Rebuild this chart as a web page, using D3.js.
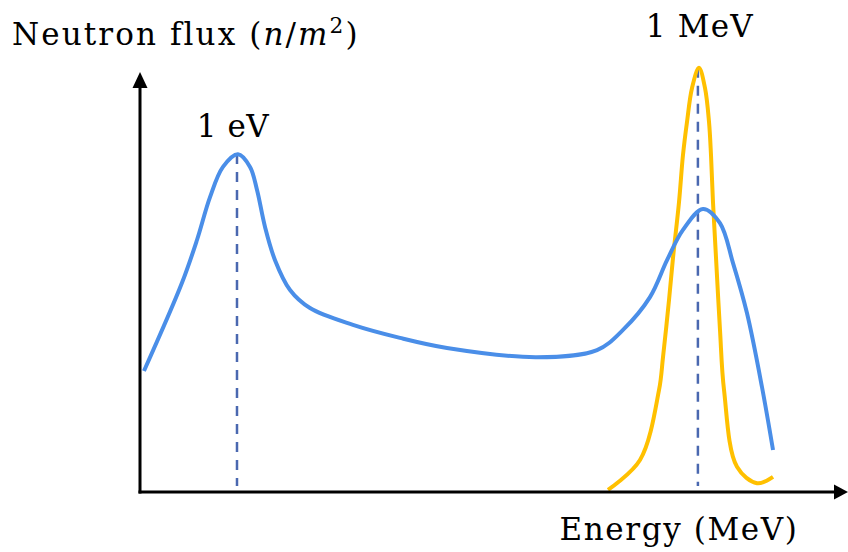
<!DOCTYPE html>
<html>
<head>
<meta charset="utf-8">
<script src="https://cdn.jsdelivr.net/npm/d3@7"></script>
<style>
  html, body { margin: 0; padding: 0; background: #fff; }
  svg { display: block; }
  text { font-family: "DejaVu Serif", "Liberation Serif", serif; fill: #000; }
</style>
</head>
<body>
<svg id="chart" width="848" height="552"></svg>
<script>
// ---- data (abstract units: energy 0..100 along the axis, flux 0..100 up the axis) ----
const blueX = [0.56, 5.93, 8.05, 9.89, 11.72, 13.84, 15.54, 16.53, 17.66, 19.07, 21.19, 24.01, 30.08, 36.72, 43.36, 56.07, 64.55, 68.22, 72.03, 74.44, 76.69, 79.52, 81.92, 83.76, 85.73, 87.85, 89.41];
const blueY = [28.8, 49.8, 60.0, 70.2, 77.4, 80.4, 77.4, 71.9, 63.1, 55.2, 48.1, 43.8, 39.8, 36.7, 34.3, 32.1, 33.8, 38.6, 46.4, 55.2, 62.4, 67.4, 64.0, 54.5, 42.6, 25.0, 10.0];
const yellowX = [66.10, 70.62, 73.31, 73.87, 74.72, 75.28, 76.13, 76.69, 77.26, 77.97, 78.95, 79.80, 80.37, 80.65, 80.93, 81.36, 81.92, 82.49, 84.32, 87.15, 89.41];
const yellowY = [0.5, 7.6, 24.3, 32.1, 45.7, 55.7, 69.0, 80.2, 88.1, 96.2, 101.0, 96.2, 88.1, 80.2, 69.0, 55.7, 38.6, 24.3, 6.0, 2.1, 3.6];
const markerX = [13.7, 78.8];          // 1 eV, 1 MeV
const markerTop = [80.5, 101.0];
const markerLabels = ["1 eV", "1 MeV"];
const xAxisTitle = "Energy (MeV)";

const svg = d3.select("#chart");
const x = d3.scaleLinear().domain([0, 100]).range([140, 848]);
const y = d3.scaleLinear().domain([0, 100]).range([492, 72]);

const blueColor = "#4a8ee8";
const yellowColor = "#ffc000";
const dashColor = "#4a68b0";

// dashed markers
markerX.forEach((mx, i) => {
  svg.append("line")
    .attr("x1", x(mx)).attr("x2", x(mx))
    .attr("y1", y(markerTop[i])).attr("y2", y(1.4))
    .attr("stroke", dashColor).attr("stroke-width", 2.5)
    .attr("stroke-dasharray", "10,8");
});

const line = d3.line().x(d => x(d[0])).y(d => y(d[1])).curve(d3.curveCatmullRom.alpha(0.5));

svg.append("path")
  .datum(yellowX.map((v, i) => [v, yellowY[i]]))
  .attr("d", line).attr("fill", "none")
  .attr("stroke", yellowColor).attr("stroke-width", 4);

svg.append("path")
  .datum(blueX.map((v, i) => [v, blueY[i]]))
  .attr("d", line).attr("fill", "none")
  .attr("stroke", blueColor).attr("stroke-width", 4);

// axes with arrow heads
const x0 = x(0), y0 = y(0);
svg.append("line").attr("x1", x0).attr("x2", x0).attr("y1", y0 + 1.5).attr("y2", y(100) + 14)
  .attr("stroke", "#000").attr("stroke-width", 3);
svg.append("line").attr("x1", x0 - 1.5).attr("x2", x(100) - 12).attr("y1", y0).attr("y2", y0)
  .attr("stroke", "#000").attr("stroke-width", 3);
svg.append("path")
  .attr("d", `M${x0},${y(100)} L${x0 - 7.5},${y(100) + 16} L${x0 + 7.5},${y(100) + 16} Z`)
  .attr("fill", "#000");
svg.append("path")
  .attr("d", `M${x(100)},${y0} L${x(100) - 14},${y0 - 7.5} L${x(100) - 14},${y0 + 7.5} Z`)
  .attr("fill", "#000");

// labels
const fs = 31;
const title = svg.append("text").attr("x", 12).attr("y", 45).attr("font-size", fs)
  .attr("letter-spacing", 2.1);
title.append("tspan").text("Neutron flux (");
title.append("tspan").attr("font-style", "italic").text("n");
title.append("tspan").text("/");
title.append("tspan").attr("font-style", "italic").text("m");
title.append("tspan").attr("font-size", fs * 0.7).attr("dy", -12).text("2");
title.append("tspan").attr("dy", 12).text(")");

svg.append("text").attr("x", x(markerX[0]) - 4).attr("y", 137).attr("font-size", fs)
  .attr("letter-spacing", 0.5).attr("text-anchor", "middle").text(markerLabels[0]);
svg.append("text").attr("x", x(markerX[1]) + 2).attr("y", 37).attr("font-size", fs)
  .attr("letter-spacing", 1.2).attr("text-anchor", "middle").text(markerLabels[1]);
svg.append("text").attr("x", 679).attr("y", 540).attr("font-size", fs)
  .attr("letter-spacing", 1.6).attr("text-anchor", "middle").text(xAxisTitle);
</script>
</body>
</html>
